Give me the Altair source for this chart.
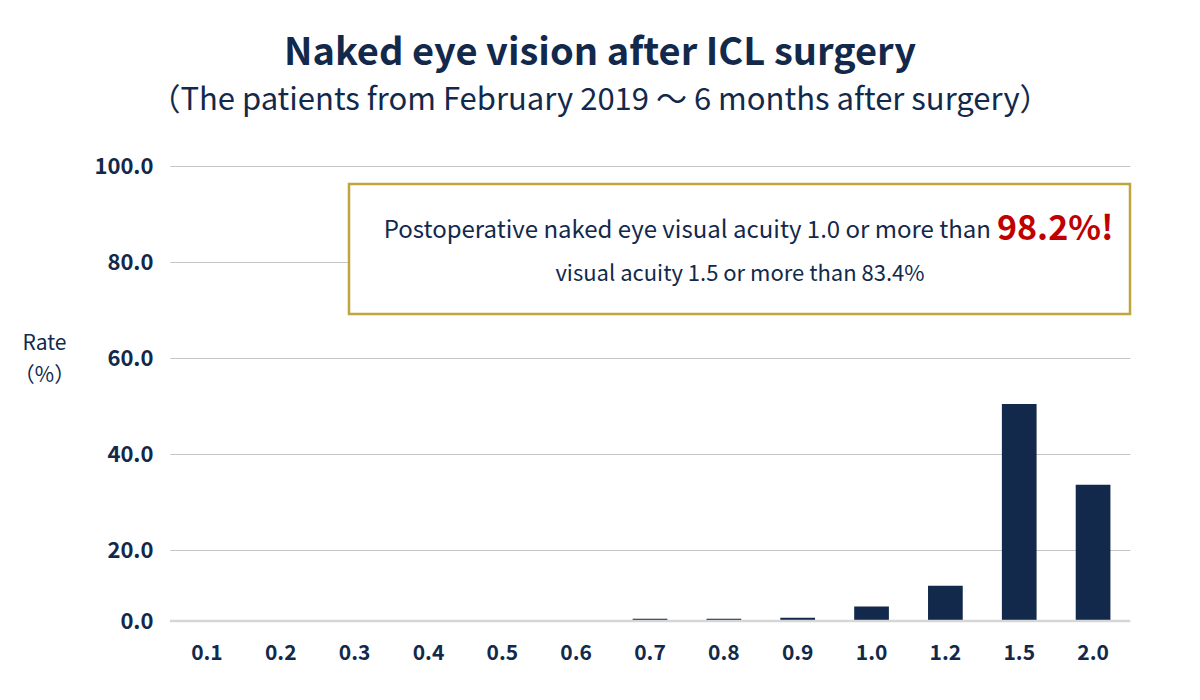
import altair as alt
import pandas as pd

categories = ["0.1", "0.2", "0.3", "0.4", "0.5", "0.6", "0.7", "0.8", "0.9", "1.0", "1.2", "1.5", "2.0"]
rates = [0, 0, 0, 0, 0, 0, 0.6, 0.6, 0.9, 4.1, 9.9, 50.4, 33.6]
y_ticks = [0, 20, 40, 60, 80, 100]

NAVY = "#12294b"
GOLD = "#bfa53e"
RED = "#c00000"
FONT = "Noto Sans CJK JP"

df = pd.DataFrame({"acuity": categories, "rate": rates})

W, H = 960, 455
Y_SCALE = alt.Scale(domain=[0, 20, 100], range=[H, 384, 0], nice=False, zero=False)

x_enc = alt.X(
    "acuity:N",
    sort=categories,
    scale=alt.Scale(paddingInner=0.53, paddingOuter=0.265),
    axis=alt.Axis(
        title=None, labelAngle=0, labelFont=FONT, labelFontSize=21,
        labelFontWeight="bold", labelColor=NAVY, labelPadding=21,
        ticks=False, domain=False, grid=False,
    ),
)
y_enc = alt.Y(
    "rate:Q",
    scale=Y_SCALE,
    axis=alt.Axis(
        values=y_ticks, format=".1f", labelFont=FONT, labelFontSize=22,
        labelFontWeight="bold", labelColor=NAVY, labelPadding=17,
        ticks=False, domain=False, grid=True, gridColor="#c4c4c4", gridWidth=1,
        title=["Rate", "（%）"], titleAngle=0, titleX=-126, titleY=177,
        titleAlign="center", titleBaseline="middle", titleFont=FONT,
        titleFontSize=21, titleFontWeight="normal", titleColor=NAVY,
        titleLineHeight=32,
    ),
)

bars = alt.Chart(df).mark_bar(color=NAVY).encode(x=x_enc, y=y_enc)

zero_line = alt.Chart(df).mark_rule(color="#d6d6d6", strokeWidth=2.5).encode(
    y=alt.datum(0, scale=Y_SCALE)
).transform_filter("datum.acuity == '0.1'")

box = alt.Chart(df).mark_rect(fill="white", stroke=GOLD, strokeWidth=2.5).encode(
    x=alt.value(179), x2=alt.value(960), y=alt.value(18), y2=alt.value(148)
).transform_filter("datum.acuity == '0.1'")

line1 = alt.Chart(df).mark_text(
    text="Postoperative naked eye visual acuity 1.0 or more than",
    font=FONT, fontSize=24, color=NAVY, align="right", baseline="alphabetic",
).encode(x=alt.value(821), y=alt.value(72)).transform_filter("datum.acuity == '0.1'")

line1_red = alt.Chart(df).mark_text(
    text="98.2%!", font=FONT, fontSize=34, fontWeight="bold", color=RED,
    align="left", baseline="alphabetic",
).encode(x=alt.value(827), y=alt.value(74)).transform_filter("datum.acuity == '0.1'")

line2 = alt.Chart(df).mark_text(
    text="visual acuity 1.5 or more than 83.4%",
    font=FONT, fontSize=22, color=NAVY, align="center", baseline="alphabetic",
).encode(x=alt.value(570), y=alt.value(115)).transform_filter("datum.acuity == '0.1'")

chart = alt.layer(bars, zero_line, box, line1, line1_red, line2).properties(
    width=W,
    height=H,
    autosize=alt.AutoSizeParams(type="none"),
    padding={"left": 162, "top": 158, "right": 30, "bottom": 60},
    title=alt.TitleParams(
        text="Naked eye vision after ICL surgery",
        subtitle="（The patients from February 2019 ～ 6 months after surgery）",
        font=FONT, fontSize=38, fontWeight="bold", color=NAVY,
        subtitleFont=FONT, subtitleFontSize=31, subtitleColor=NAVY,
        subtitleFontWeight="normal", subtitlePadding=13,
        anchor="middle", frame="group", dx=-50, offset=39,
    ),
).configure_view(stroke=None)

chart.save("out.html", embed_options={"renderer": "svg", "actions": False})
